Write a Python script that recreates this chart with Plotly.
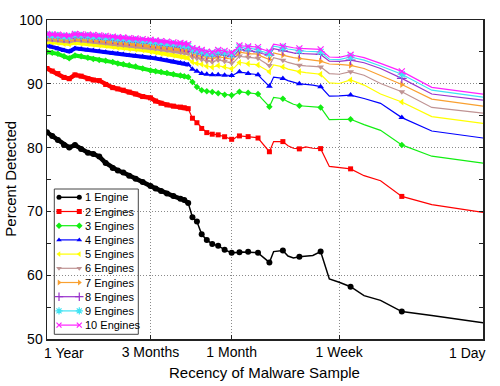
import math
import plotly.graph_objects as go

# ---------------- data ----------------
days = [365, 340, 315, 290, 270, 250, 230, 210, 195, 180, 165, 150, 140, 130, 120, 110,
        100, 90, 84, 78, 72, 66, 60, 57, 54, 51, 48, 45, 42, 39, 36, 33,
        30, 29, 28, 27, 26, 25, 24, 23, 22, 21, 20, 19, 18, 17, 16, 15,
        14, 13, 12, 11, 10, 9, 8, 7, 6, 5, 4, 3, 2, 1]

engines_1 = [82.4, 81.8, 81.2, 80.4, 80.0, 80.4, 79.8, 79.2, 79.0, 78.6,
             77.6, 76.8, 76.4, 76.1, 75.6, 75.1, 74.6, 74.0, 73.6, 73.2,
             72.8, 72.4, 72.0, 71.8, 71.3, 69.1, 68.4, 66.4, 65.5, 64.9,
             64.6, 64.0, 63.5, 63.5, 63.55, 63.6, 63.65, 63.65, 63.66, 63.6,
             63.55, 63.5, 63.0, 62.5, 62.0, 63.7, 63.75, 63.86, 63.0, 62.7,
             62.9, 63.0, 63.1, 63.7, 59.4, 58.9, 58.2, 56.8, 56.05, 54.3,
             53.7, 52.55]
engines_2 = [92.4, 92.0, 91.6, 91.0, 90.8, 91.4, 91.2, 90.8, 90.6, 90.5,
             89.9, 89.4, 89.2, 89.0, 88.7, 88.4, 88.0, 87.8, 87.3, 86.95,
             86.7, 86.5, 86.35, 86.25, 86.1, 84.6, 83.9, 83.0, 82.35, 82.1,
             82.0, 81.7, 81.3, 81.4, 81.7, 81.83, 81.8, 81.75, 81.72, 81.65,
             81.6, 81.5, 80.8, 80.0, 79.35, 80.95, 80.9, 80.94, 80.3, 79.9,
             79.8, 80.1, 79.9, 79.84, 77.05, 76.9, 76.67, 75.6, 74.8, 72.35,
             71.05, 69.85]
engines_3 = [95.0, 94.85, 94.7, 94.3, 94.0, 94.45, 94.3, 94.1, 93.9, 93.75,
             93.6, 93.4, 93.2, 93.05, 92.9, 92.7, 92.4, 92.1, 91.95, 91.85,
             91.7, 91.5, 91.3, 91.2, 91.05, 90.3, 89.5, 89.0, 88.85, 88.7,
             88.5, 88.3, 88.2, 88.3, 88.5, 88.75, 88.7, 88.65, 88.6, 88.55,
             88.5, 88.4, 87.7, 87.0, 86.4, 87.87, 87.75, 87.66, 87.2, 86.8,
             86.56, 86.5, 86.4, 86.3, 84.4, 84.4, 84.44, 83.6, 82.7, 80.42,
             78.65, 77.56]
engines_4 = [96.0, 95.75, 95.5, 95.2, 95.05, 95.55, 95.45, 95.3, 95.2, 95.1,
             94.95, 94.8, 94.7, 94.6, 94.45, 94.35, 94.25, 94.1, 94.0, 93.85,
             93.65, 93.45, 93.25, 93.15, 93.0, 92.3, 91.95, 91.6, 91.5, 91.4,
             91.4, 91.35, 91.3, 91.45, 91.7, 91.9, 91.8, 91.7, 91.6, 91.55,
             91.5, 91.4, 90.8, 90.2, 89.6, 91.05, 90.95, 90.84, 90.5, 90.2,
             90.0, 89.9, 89.8, 89.55, 88.08, 88.1, 88.23, 87.7, 86.94, 84.7,
             82.6, 81.5]
engines_5 = [96.6, 96.5, 96.45, 96.3, 96.25, 96.45, 96.35, 96.3, 96.2, 96.1,
             96.0, 95.85, 95.7, 95.65, 95.5, 95.4, 95.3, 95.1, 94.95, 94.8,
             94.65, 94.5, 94.3, 94.2, 94.05, 93.4, 93.2, 93.05, 92.75, 92.6,
             92.85, 92.65, 92.35, 92.5, 93.0, 93.35, 93.3, 93.2, 93.15, 93.05,
             93.05, 92.95, 92.6, 92.2, 91.9, 92.95, 92.8, 92.65, 92.3, 92.05,
             91.9, 91.75, 91.65, 91.5, 90.15, 90.05, 90.6, 89.8, 88.4, 87.15,
             84.85, 83.8]
engines_6 = [97.0, 96.95, 96.85, 96.75, 96.65, 96.9, 96.8, 96.75, 96.65, 96.6,
             96.45, 96.3, 96.2, 96.1, 96.0, 95.9, 95.8, 95.65, 95.55, 95.4,
             95.3, 95.15, 95.0, 94.9, 94.8, 94.15, 94.0, 93.8, 93.55, 93.4,
             93.75, 93.55, 93.25, 93.45, 93.95, 94.35, 94.25, 94.2, 94.15, 94.1,
             94.05, 94.0, 93.6, 93.2, 92.85, 94.1, 93.9, 93.7, 93.35, 93.1,
             92.9, 92.8, 92.75, 92.65, 91.6, 91.5, 91.9, 91.35, 90.05, 88.75,
             86.3, 85.4]
engines_7 = [97.2, 97.15, 97.05, 96.95, 96.9, 97.1, 97.05, 96.95, 96.9, 96.85,
             96.7, 96.6, 96.45, 96.4, 96.3, 96.2, 96.1, 96.0, 95.85, 95.75,
             95.65, 95.55, 95.45, 95.35, 95.2, 94.6, 94.45, 94.3, 94.05, 93.95,
             94.25, 94.1, 93.85, 94.05, 94.55, 94.95, 94.9, 94.8, 94.75, 94.7,
             94.7, 94.65, 94.3, 94.0, 93.8, 94.85, 94.65, 94.5, 94.3, 94.1,
             93.95, 93.8, 93.7, 93.55, 93.1, 93.05, 92.9, 92.4, 91.35, 89.9,
             87.6, 86.5]
engines_8 = [97.45, 97.4, 97.35, 97.25, 97.2, 97.4, 97.35, 97.3, 97.25, 97.2,
             97.1, 97.0, 96.85, 96.8, 96.7, 96.65, 96.55, 96.45, 96.3, 96.2,
             96.1, 96.0, 95.85, 95.75, 95.65, 95.05, 94.9, 94.7, 94.45, 94.35,
             94.7, 94.5, 94.25, 94.45, 94.95, 95.35, 95.3, 95.25, 95.15, 95.1,
             95.1, 95.0, 94.75, 94.6, 94.5, 95.5, 95.35, 95.15, 95.0, 94.85,
             94.75, 94.7, 94.65, 94.6, 93.55, 93.5, 93.7, 93.3, 92.4, 90.85,
             88.4, 87.45]
engines_9 = [97.6, 97.55, 97.5, 97.4, 97.35, 97.6, 97.5, 97.45, 97.4, 97.35,
             97.25, 97.15, 97.05, 97.0, 96.9, 96.85, 96.7, 96.6, 96.5, 96.4,
             96.3, 96.2, 96.1, 96.0, 95.9, 95.3, 95.15, 95.0, 94.75, 94.65,
             95.0, 94.85, 94.6, 94.8, 95.3, 95.7, 95.65, 95.6, 95.55, 95.5,
             95.5, 95.4, 95.1, 94.9, 94.75, 95.9, 95.8, 95.65, 95.45, 95.3,
             95.2, 95.1, 95.05, 95.0, 93.85, 93.8, 94.2, 93.7, 92.8, 91.5,
             89.0, 87.9]
engines_10 = [97.8, 97.75, 97.7, 97.6, 97.55, 97.8, 97.75, 97.7, 97.65, 97.6,
              97.5, 97.4, 97.3, 97.25, 97.15, 97.1, 97.0, 96.9, 96.8, 96.7,
              96.6, 96.5, 96.4, 96.3, 96.2, 95.6, 95.45, 95.3, 95.05, 94.95,
              95.3, 95.15, 94.9, 95.1, 95.6, 96.0, 95.95, 95.9, 95.85, 95.8,
              95.8, 95.75, 95.45, 95.2, 95.05, 96.2, 96.05, 95.9, 95.75, 95.65,
              95.55, 95.5, 95.45, 95.4, 94.2, 94.15, 94.55, 94.1, 93.2, 91.95,
              89.45, 88.37]

series_names = ["1 Engine", "2 Engines", "3 Engines", "4 Engines", "5 Engines",
                "6 Engines", "7 Engines", "8 Engines", "9 Engines", "10 Engines"]
series_values = [engines_1, engines_2, engines_3, engines_4, engines_5,
                 engines_6, engines_7, engines_8, engines_9, engines_10]

x_tick_days = [365, 90, 30, 7, 1]
x_tick_labels = ["1 Year", "3 Months", "1 Month", "1 Week", "1 Day"]

# ---------------- styles ----------------
styles = [
    dict(color="#000000", symbol="circle", size=6, lw=1.5, band=4.5),
    dict(color="#FF0000", symbol="square", size=5, lw=1.2, band=4.5),
    dict(color="#12EE12", symbol="diamond", size=5, lw=1.2, band=4),
    dict(color="#0000FF", symbol="triangle-up", size=6, lw=1.2, band=4),
    dict(color="#FFFF00", symbol="triangle-left", size=6, lw=1.2, band=4),
    dict(color="#BF9393", symbol="triangle-down", size=6, lw=1.2, band=4),
    dict(color="#F9A030", symbol="triangle-right", size=6, lw=1.2, band=4),
    dict(color="#9933CC", symbol="cross-thin", size=7, lw=1.2, band=3),
    dict(color="#3FE3F3", symbol="asterisk", size=7, lw=1.2, band=3),
    dict(color="#FF22FF", symbol="x-thin", size=6, lw=1.2, band=3),
]
LINE_SYMBOLS = ("cross-thin", "asterisk", "x-thin")
FONT = "Liberation Sans, Arial, Helvetica, sans-serif"

W_FIG, H_FIG = 500, 386
ML, MR, MT, MB = 47, 17, 20, 47
PW = W_FIG - ML - MR
PH = H_FIG - MT - MB


def fx(px):
    """page pixel x -> paper fraction"""
    return (px - ML) / PW


def fy(py):
    """page pixel y -> paper fraction"""
    return (H_FIG - MB - py) / PH


def marker_of(st, size=None):
    m = dict(symbol=st["symbol"], size=size or st["size"], color=st["color"])
    if st["symbol"] in LINE_SYMBOLS:
        m["line"] = dict(color=st["color"], width=1.2)
    else:
        m["line"] = dict(width=0)
    return m


fig = go.Figure()

# markers on every point of the dense part, and every third day afterwards
show_marker = [d > 30 or d % 3 == 0 for d in days]
# in the oldest part the original markers overlap into a continuous thick band
dense = [d >= 54 for d in days]

for name, vals, st in zip(series_names, series_values, styles):
    bx = [d for d, s in zip(days, dense) if s]
    by = [v for v, s in zip(vals, dense) if s]
    fig.add_trace(go.Scatter(x=bx, y=by, mode="lines", name=name,
                             line=dict(color=st["color"], width=st["band"]),
                             showlegend=False, hoverinfo="skip"))
    fig.add_trace(go.Scatter(x=days, y=vals, mode="lines", name=name,
                             line=dict(color=st["color"], width=st["lw"]),
                             showlegend=False, hoverinfo="skip"))
    mx = [d for d, s in zip(days, show_marker) if s]
    my = [v for v, s in zip(vals, show_marker) if s]
    fig.add_trace(go.Scatter(x=mx, y=my, mode="markers", name=name,
                             marker=marker_of(st), showlegend=False))

# ---------------- custom legend (compact rows like the original) ----------------
LEG_X0, LEG_X1, LEG_Y0, LEG_Y1 = 54.3, 138.3, 189.0, 334.3
ROW0, ROW_STEP = 197.3, 14.2
SAMPLE_X0, SAMPLE_X1, TEXT_X = 59.0, 79.3, 83.3

fig.add_shape(type="rect", xref="paper", yref="paper",
              x0=fx(LEG_X0), x1=fx(LEG_X1), y0=fy(LEG_Y1), y1=fy(LEG_Y0),
              line=dict(color="#444444", width=1), fillcolor="white", layer="between")

annotations = []
for k, (name, st) in enumerate(zip(series_names, styles)):
    yk = fy(ROW0 + ROW_STEP * k)
    fig.add_trace(go.Scatter(x=[fx(SAMPLE_X0), fx(SAMPLE_X1)], y=[yk, yk],
                             xaxis="x2", yaxis="y2", mode="lines+markers",
                             line=dict(color=st["color"], width=st["lw"]),
                             marker=marker_of(st, max(st["size"] - 1, 5)),
                             showlegend=False, hoverinfo="skip"))
    annotations.append(dict(x=fx(TEXT_X), y=yk, xref="paper", yref="paper",
                            text=name, showarrow=False, xanchor="left", yanchor="middle",
                            font=dict(family=FONT, size=11, color="black")))

# end tick labels of the x axis sit inside the frame in the original
annotations.append(dict(x=fx(42), y=fy(353), xref="paper", yref="paper",
                        text=x_tick_labels[0], showarrow=False,
                        xanchor="left", yanchor="middle",
                        font=dict(family=FONT, size=14, color="black")))
annotations.append(dict(x=fx(488), y=fy(353), xref="paper", yref="paper",
                        text=x_tick_labels[-1], showarrow=False,
                        xanchor="right", yanchor="middle",
                        font=dict(family=FONT, size=14, color="black")))

# axis titles
annotations.append(dict(x=fx(264.7), y=fy(373), xref="paper", yref="paper",
                        text="Recency of Malware Sample", showarrow=False,
                        xanchor="center", yanchor="middle",
                        font=dict(family=FONT, size=15, color="black")))
annotations.append(dict(x=fx(10.5), y=fy(179.2), xref="paper", yref="paper",
                        text="Percent Detected", showarrow=False, textangle=-90,
                        xanchor="center", yanchor="middle",
                        font=dict(family=FONT, size=15, color="black")))

tick_text = [""] + list(x_tick_labels[1:-1]) + [""]

GRID = dict(showgrid=True, gridcolor="#8a8a8a", griddash="1px,2px", gridwidth=1)

fig.update_layout(
    width=W_FIG, height=H_FIG,
    margin=dict(l=ML, r=MR, t=MT, b=MB, pad=0),
    paper_bgcolor="white", plot_bgcolor="white",
    font=dict(family=FONT, size=14, color="black"),
    showlegend=False,
    hovermode=False,
    xaxis=dict(type="log", range=[math.log10(max(days)), math.log10(min(days))],
               tickvals=x_tick_days, ticktext=tick_text,
               ticks="inside", ticklen=4, tickcolor="#222222",
               showline=True, linecolor="#222222", linewidth=1.5, mirror="ticks",
               zeroline=False, tickfont=dict(family=FONT, size=14, color="black"),
               **GRID),
    yaxis=dict(range=[50, 100], tick0=50, dtick=10,
               ticks="inside", ticklen=4, tickcolor="#222222",
               minor=dict(tick0=50, dtick=5, ticks="inside", ticklen=4,
                          tickcolor="#222222", showgrid=False),
               showline=True, linecolor="#222222", linewidth=1.5, mirror="ticks",
               zeroline=False, tickfont=dict(family=FONT, size=14, color="black"),
               **GRID),
    xaxis2=dict(overlaying="x", range=[0, 1], visible=False, anchor="y2"),
    yaxis2=dict(overlaying="y", range=[0, 1], visible=False, anchor="x2"),
    annotations=annotations,
)

# remove the browser's default 8px page margin so the figure sits at the window origin
fig.write_html("out.html",
               config={"displayModeBar": False, "staticPlot": True},
               post_script="document.body.style.margin='0';document.body.style.overflow='hidden';")
